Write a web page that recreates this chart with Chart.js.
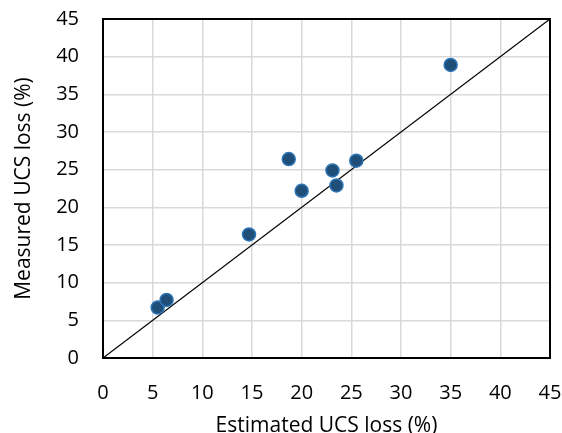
<!DOCTYPE html>
<html><head><meta charset="utf-8">
<script src="https://cdn.jsdelivr.net/npm/chart.js@4.4.1/dist/chart.umd.min.js"></script>
<style>html,body{margin:0;padding:0;background:#fff}#wrap{width:562px;height:433px}</style>
</head><body><div id="wrap"><canvas id="c" width="562" height="433"></canvas></div>
<script>
const estimated = [35.0, 18.7, 23.1, 25.5, 20.0, 23.5, 14.7, 5.5, 6.4];
const measured  = [38.9, 26.4, 24.9, 26.2, 22.2, 22.9, 16.4, 6.7, 7.7];
const lineX = [0, 45];
const lineY = [0, 45];
const xTitle = 'Estimated UCS loss (%)';
const yTitle = 'Measured UCS loss (%)';

const font = "'Open Sans', sans-serif";
const borderPlugin = {
  id: 'areaBorder',
  afterDatasetsDraw(chart) {
    const a = chart.chartArea, ctx = chart.ctx;
    ctx.save(); ctx.strokeStyle = '#000'; ctx.lineWidth = 2;
    ctx.strokeRect(a.left, a.top, a.right - a.left, a.bottom - a.top);
    ctx.restore();
  }
};
new Chart(document.getElementById('c'), {
  type: 'scatter',
  data: { datasets: [
    { type: 'line', data: lineX.map((v,i)=>({x:v,y:lineY[i]})), borderColor:'#000', borderWidth:1.2, pointRadius:0, fill:false, order:2 },
    { data: estimated.map((v,i)=>({x:v,y:measured[i]})), backgroundColor:'#1F4E79', borderColor:'#2E75B6', borderWidth:1.5, pointRadius:6.5, order:1 }
  ]},
  options: {
    responsive:false, animation:false, devicePixelRatio:1,
    layout:{padding:{left:0,right:12,top:19,bottom:0}},
    plugins:{legend:{display:false}, tooltip:{enabled:false}},
    scales:{
      x:{ type:'linear', min:0, max:45, ticks:{stepSize:5, color:'#000', font:{family:font,size:20}, padding:23, maxRotation:0},
          grid:{color:'#d9d9d9', lineWidth:1.5, drawTicks:false}, border:{display:false},
          title:{display:true, text:xTitle, color:'#000', font:{family:font,size:21, lineHeight:1}, padding:{top:0,bottom:-4}},
          afterFit(s){ s.height = 433-358; s.paddingLeft = 0; s.paddingRight = 0; } },
      y:{ type:'linear', min:0, max:45, ticks:{stepSize:5, color:'#000', font:{family:font,size:20}, padding:24},
          grid:{color:'#d9d9d9', lineWidth:1.5, drawTicks:false}, border:{display:false},
          title:{display:true, text:yTitle, color:'#000', font:{family:font,size:21}, padding:{top:11,bottom:0}},
          afterFit(s){ s.width = 103; s.paddingTop = 0; s.paddingBottom = 0; } }
    }
  },
  plugins:[borderPlugin]
});
</script></body></html>
